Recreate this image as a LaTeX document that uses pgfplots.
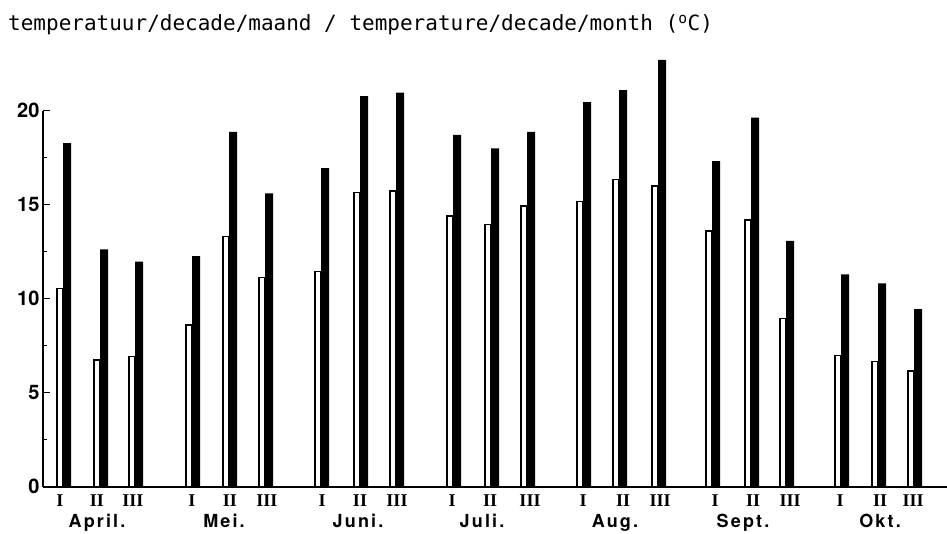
\documentclass[border=0pt]{standalone}
\usepackage{fontspec}
\setmainfont{TeX Gyre Heros}
\newfontfamily\monofont{DejaVu Sans Mono}
\newfontfamily\romfont{Liberation Serif}
\usepackage{pgfplots}
\usepackage{pgfplotstable}
\pgfplotsset{compat=1.18}
\pgfplotstableread{
c w b
63 10.55 18.27
100 6.74 12.63
135 6.91 11.97
192 8.6 12.27
229 13.3 18.88
265 11.12 15.6
321 11.44 16.94
360 15.64 20.78
396 15.73 20.96
453 14.4 18.71
491 13.96 18.0
527 14.93 18.88
583 15.16 20.46
619 16.35 21.1
658 16.0 22.7
712 13.6 17.32
751 14.19 19.63
786 8.96 13.07
841 6.97 11.3
878 6.65 10.82
914 6.15 9.44
}\data
\begin{document}
\begin{tikzpicture}
\path[use as bounding box] (0,0) rectangle (947pt,533pt);
\node[anchor=base west, inner sep=0pt, font=\monofont\fontsize{21}{24}\selectfont] at (8pt,502pt) {temperatuur/decade/maand / temperature/decade/month (\textsuperscript{o}C)};
\begin{axis}[
  at={(43pt,46.3pt)}, anchor=south west,
  width=904pt, height=376pt, scale only axis,
  xmin=43, xmax=947, ymin=0, ymax=20,
  axis x line=bottom, axis y line=left,
  axis line style={line width=2.4pt,-},
  clip=false,
  ytick={0,5,10,15,20}, minor y tick num=1,
  tick align=inside, major tick length=7pt, minor tick length=4pt,
  y tick style={line width=1.5pt, black},
  x tick style={draw=none},
  /pgf/number format/assume math mode=true,
  yticklabel style={font=\fontsize{20}{20}\selectfont\bfseries},
  xtick={60,97,133,192,230,267,322,360,397,452,490,530,583,623,660,715,753,790,840,880,913},
  xticklabels={I,II,III,I,II,III,I,II,III,I,II,III,I,II,III,I,II,III,I,II,III},
  xticklabel style={font=\romfont\bfseries\fontsize{18}{18}\selectfont, inner sep=0pt, yshift=-8pt},
]
\addplot[ybar, bar width=5.5, bar shift=0pt, fill=white, draw=black, line width=1.4pt]
  table[x expr=\thisrow{c}-3.2, y=w]{\data};
\addplot[ybar, bar width=8, bar shift=0pt, fill=black, draw=none]
  table[x expr=\thisrow{c}+4, y=b]{\data};
\begin{scope}[every node/.style={anchor=base, inner sep=0pt, font=\addfontfeature{LetterSpace=12}\fontsize{18}{18}\selectfont\bfseries}]
\node at (axis cs:97,0) [yshift=-41pt] {April.};
\node at (axis cs:224,0) [yshift=-41pt] {Mei.};
\node at (axis cs:358,0) [yshift=-41pt] {Juni.};
\node at (axis cs:482,0) [yshift=-41pt] {Juli.};
\node at (axis cs:615,0) [yshift=-41pt] {Aug.};
\node at (axis cs:743,0) [yshift=-41pt] {Sept.};
\node at (axis cs:880,0) [yshift=-41pt] {Okt.};
\end{scope}
\end{axis}
\end{tikzpicture}
\end{document}
